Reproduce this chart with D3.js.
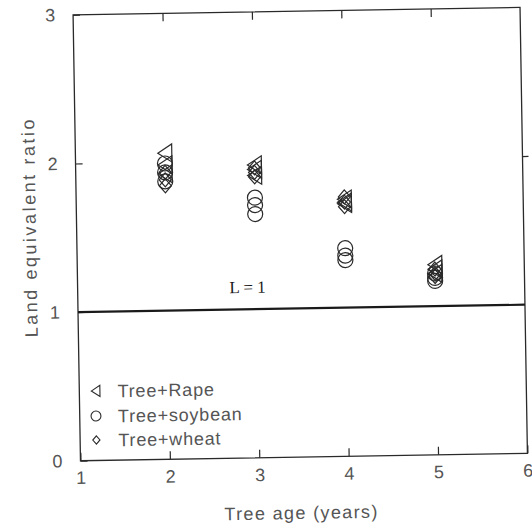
<!DOCTYPE html>
<html>
<head>
<meta charset="utf-8">
<script src="https://cdn.jsdelivr.net/npm/d3@7"></script>
<style>
  html, body { margin: 0; padding: 0; background: #fff; }
  svg { display: block; }
</style>
</head>
<body>
<svg id="chart" width="532" height="529"></svg>
<script>
// Land equivalent ratio of the tree + crop systems, three replicates per tree age
const treeAge    = [2, 2, 2, 3, 3, 3, 4, 4, 4, 5, 5, 5];
const rapeLER    = [2.06, 1.98, 1.92, 1.97, 1.94, 1.90, 1.73, 1.71, 1.70, 1.28, 1.25, 1.22];
const soybeanLER = [1.99, 1.93, 1.87, 1.75, 1.70, 1.64, 1.40, 1.35, 1.32, 1.22, 1.19, 1.17];
const wheatLER   = [1.93, 1.88, 1.84, 1.95, 1.92, 1.89, 1.745, 1.71, 1.68, 1.25, 1.22, 1.20];

const seriesNames = ["Tree+Rape", "Tree+soybean", "Tree+wheat"];
const seriesSymbols = ["triangle", "circle", "diamond"];
const xTickValues = [1, 2, 3, 4, 5, 6];
const yTickValues = [0, 1, 2, 3];
const referenceLER = 1;
const referenceLabel = "L = 1";

const W = 532, H = 529;
const plot = { left: 76.75, top: 11.1, width: 447, height: 446 };
const ink = "#2a2a2a", textInk = "#555";
const sansFont = "'Liberation Sans', Arial, Helvetica, sans-serif";

const svg = d3.select("#chart");
svg.append("rect").attr("width", W).attr("height", H).attr("fill", "#fff");

// the whole figure sits slightly tilted on the page
const root = svg.append("g")
  .attr("transform", "rotate(-0.95 300.25 234.1)");

const x = d3.scaleLinear().domain([1, 6]).range([plot.left, plot.left + plot.width]);
const y = d3.scaleLinear().domain([0, 3]).range([plot.top + plot.height, plot.top]);

function styleAxis(g) {
  g.select(".domain").remove();
  g.selectAll(".tick line").attr("stroke", ink).attr("stroke-width", 1.2);
  g.selectAll(".tick text")
    .attr("fill", textInk)
    .style("font-family", sansFont)
    .style("font-size", "18px");
}

// bottom axis: ticks point inward, labels below
root.append("g")
  .attr("transform", `translate(0,${plot.top + plot.height})`)
  .call(d3.axisBottom(x).tickValues(xTickValues).tickFormat(d3.format("d"))
    .tickSize(-8).tickSizeOuter(0).tickPadding(10.5))
  .call(styleAxis);

// top axis: inward ticks only
root.append("g")
  .attr("transform", `translate(0,${plot.top})`)
  .call(d3.axisTop(x).tickValues(xTickValues.slice(1, -1)).tickFormat("")
    .tickSize(-8).tickSizeOuter(0))
  .call(styleAxis);

// left axis
root.append("g")
  .attr("transform", `translate(${plot.left},0)`)
  .call(d3.axisLeft(y).tickValues(yTickValues).tickFormat(d3.format("d"))
    .tickSize(-7).tickSizeOuter(0).tickPadding(18))
  .call(styleAxis);

// right axis: short outward ticks
root.append("g")
  .attr("transform", `translate(${plot.left + plot.width},0)`)
  .call(d3.axisRight(y).tickValues([2]).tickFormat("")
    .tickSize(6).tickSizeOuter(0))
  .call(styleAxis);

// plot frame
root.append("rect")
  .attr("x", plot.left).attr("y", plot.top)
  .attr("width", plot.width).attr("height", plot.height)
  .attr("fill", "none").attr("stroke", ink).attr("stroke-width", 1.3);

// axis titles
root.append("text")
  .attr("x", plot.left + plot.width / 2 - 4)
  .attr("y", 519)
  .attr("text-anchor", "middle")
  .attr("textLength", 153).attr("lengthAdjust", "spacing")
  .attr("fill", textInk)
  .style("font-family", sansFont).style("font-size", "18px")
  .text("Tree age (years)");

root.append("text")
  .attr("transform", "translate(36,224) rotate(-90)")
  .attr("text-anchor", "middle")
  .attr("textLength", 218).attr("lengthAdjust", "spacing")
  .attr("fill", textInk)
  .style("font-family", sansFont).style("font-size", "18px")
  .text("Land equivalent ratio");

// LER = 1 reference line
root.append("line")
  .attr("x1", x(1)).attr("x2", x(6))
  .attr("y1", y(referenceLER)).attr("y2", y(referenceLER))
  .attr("stroke", "#1a1a1a").attr("stroke-width", 2.2);

root.append("text")
  .attr("x", x(2.9)).attr("y", y(1.11))
  .attr("text-anchor", "middle")
  .attr("fill", "#1a1a1a")
  .style("font-family", "'Liberation Serif', 'Times New Roman', serif")
  .style("font-size", "17px")
  .text(referenceLabel);

// marker shapes
function symbolPath(kind, s) {
  if (kind === "triangle") {
    const w = 7 * s, h = 9 * s;
    return `M${-w},0L${w},${-h}L${w},${h}Z`;
  }
  if (kind === "diamond") {
    const w = 6 * s, h = 7 * s;
    return `M0,${-h}L${w},0L0,${h}L${-w},0Z`;
  }
  const r = 7.5 * s;
  return `M${r},0A${r},${r} 0 1,1 ${-r},0A${r},${r} 0 1,1 ${r},0Z`;
}

const seriesValues = [rapeLER, soybeanLER, wheatLER];
seriesValues.forEach((vals, i) => {
  root.append("g")
    .selectAll("path")
    .data(vals.map((v, j) => ({ age: treeAge[j], ler: v })))
    .join("path")
    .attr("transform", d => `translate(${x(d.age)},${y(d.ler)})`)
    .attr("d", symbolPath(seriesSymbols[i], 1))
    .attr("fill", "none")
    .attr("stroke", ink)
    .attr("stroke-width", 1.2);
});

// legend
const legendRows = [387.6, 412.6, 436.6];
const legendScale = [0.62, 0.66, 0.6];
const legend = root.append("g");
seriesNames.forEach((name, i) => {
  legend.append("path")
    .attr("transform", `translate(93,${legendRows[i]})`)
    .attr("d", symbolPath(seriesSymbols[i], legendScale[i]))
    .attr("fill", "none").attr("stroke", ink).attr("stroke-width", 1.1);
  legend.append("text")
    .attr("x", 115).attr("y", legendRows[i] + 6.5)
    .attr("fill", textInk)
    .style("font-family", sansFont).style("font-size", "18px")
    .style("letter-spacing", "0.8px")
    .text(name);
});
</script>
</body>
</html>
